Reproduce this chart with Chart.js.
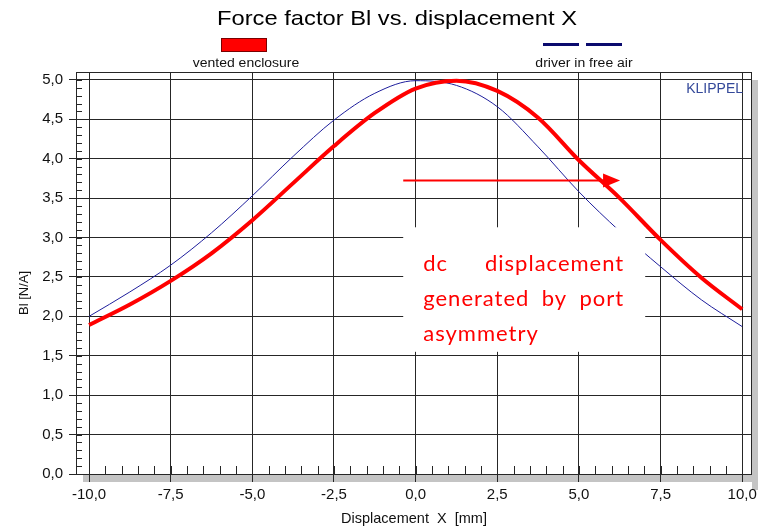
<!DOCTYPE html>
<html>
<head>
<meta charset="utf-8">
<script src="https://cdn.jsdelivr.net/npm/chart.js@4.4.1/dist/chart.umd.min.js"></script>
<style>
  html, body { margin: 0; padding: 0; background: #fff; }
  #wrap { width: 758px; height: 529px; }
</style>
</head>
<body>
<div id="wrap"><canvas id="blChart" width="758" height="529"></canvas></div>
<script>
// ===== Data =====
const displacement = [-10, -8.75, -7.5, -6.25, -5, -3.75, -2.5, -1.25, 0, 1.25, 2.5, 3.75, 5, 6.25, 7.5, 8.75, 10];
const blVented  = [1.89, 2.15, 2.45, 2.80, 3.22, 3.69, 4.16, 4.58, 4.89, 4.99, 4.86, 4.52, 3.98, 3.50, 2.97, 2.49, 2.09];
const blFreeAir = [2.00, 2.31, 2.65, 3.06, 3.53, 4.03, 4.49, 4.83, 4.99, 4.93, 4.66, 4.15, 3.58, 3.08, 2.63, 2.21, 1.87];
const xTicks = [-10, -7.5, -5, -2.5, 0, 2.5, 5, 7.5, 10];
const yTicks = [0, 0.5, 1, 1.5, 2, 2.5, 3, 3.5, 4, 4.5, 5];
const seriesNames = ['vented enclosure', 'driver in free air'];
const chartTitle = 'Force factor Bl vs. displacement X';
const yTitle = 'Bl [N/A]';
const noteLines = [['dc', 'displacement'], ['generated', 'by', 'port'], ['asymmetry']];

// ===== Style =====
const FONT = "'Liberation Sans', Arial, sans-serif";
const RED = '#ff0000';
const BLUE = '#1e1e9c';
const GRID = '#262626';

const fmt = v => v.toFixed(1).replace('.', ',');

// text a bit wider than plain Arial, like the original export
function wideText(ctx, text, x, y, stretch) {
  ctx.save();
  ctx.translate(x, y);
  ctx.scale(stretch, 1);
  ctx.fillText(text, 0, 0);
  ctx.restore();
}

// ===== Decorations (frame, minor ticks, legend, note) =====
const decorations = {
  id: 'decorations',
  beforeDraw(chart) {
    const { ctx, chartArea: a } = chart;
    ctx.save();
    ctx.fillStyle = '#c4c4c4';
    ctx.fillRect(a.left + 7, a.bottom, a.right - a.left, 8);
    ctx.fillRect(a.right, a.top + 8, 6, a.bottom - a.top + 8);
    ctx.restore();
  },
  beforeDatasetsDraw(chart) {
    const { ctx, chartArea: a, scales } = chart;
    ctx.save();
    ctx.strokeStyle = GRID;
    ctx.lineWidth = 1;
    ctx.strokeRect(a.left + 0.5, a.top + 0.5, a.right - a.left - 1, a.bottom - a.top);
    // minor ticks
    ctx.beginPath();
    for (let i = 0; i <= 50; i++) {
      const y = Math.round(scales.y.getPixelForValue(i / 10)) + 0.5;
      ctx.moveTo(a.left, y);
      ctx.lineTo(a.left + 6, y);
    }
    for (let i = -20; i <= 20; i++) {
      const x = Math.round(scales.x.getPixelForValue(i / 2)) + 0.5;
      ctx.moveTo(x, a.bottom);
      ctx.lineTo(x, a.bottom - 8);
    }
    ctx.stroke();
    ctx.restore();
  },
  afterDatasetsDraw(chart) {
    const { ctx, scales } = chart;
    const sx = scales.x, sy = scales.y;
    ctx.save();
    // arrow
    const ay = Math.round(sy.getPixelForValue(3.73)) + 0.5;
    const ax0 = sx.getPixelForValue(-0.38);
    const ax1 = sx.getPixelForValue(6.26);
    ctx.strokeStyle = RED;
    ctx.fillStyle = RED;
    ctx.lineWidth = 2;
    ctx.beginPath();
    ctx.moveTo(ax0, ay);
    ctx.lineTo(ax1 - 10, ay);
    ctx.stroke();
    ctx.beginPath();
    ctx.moveTo(ax1, ay);
    ctx.lineTo(ax1 - 17, ay - 7);
    ctx.lineTo(ax1 - 17, ay + 7);
    ctx.closePath();
    ctx.fill();

    // note box
    const bx0 = sx.getPixelForValue(-0.38), bx1 = sx.getPixelForValue(7.03);
    const by0 = sy.getPixelForValue(3.13), by1 = sy.getPixelForValue(1.55);
    ctx.fillStyle = '#fff';
    ctx.fillRect(bx0, by0, bx1 - bx0, by1 - by0);

    ctx.fillStyle = RED;
    ctx.font = "22px Lato, 'Open Sans', sans-serif";
    ctx.letterSpacing = '1px';
    ctx.textBaseline = 'alphabetic';
    ctx.textAlign = 'left';
    const left = bx0 + 20, right = left + 201;
    const baselines = [by0 + 44, by0 + 79, by0 + 114];
    noteLines.forEach((words, i) => {
      const y = baselines[i];
      if (words.length === 1) {
        ctx.fillText(words[0], left, y);
        return;
      }
      const widths = words.map(w => ctx.measureText(w).width);
      const gap = (right - left - widths.reduce((s, w) => s + w, 0)) / (words.length - 1);
      let x = left;
      words.forEach((w, j) => {
        ctx.fillText(w, x, y);
        x += widths[j] + gap;
      });
    });
    ctx.restore();
  },
  afterDraw(chart) {
    const { ctx, chartArea: a } = chart;
    ctx.save();
    ctx.fillStyle = '#000';
    ctx.textAlign = 'center';
    ctx.textBaseline = 'middle';
    ctx.font = '21px ' + FONT;
    wideText(ctx, chartTitle, 397, 19, 1.13);

    // legend
    ctx.fillStyle = RED;
    ctx.fillRect(221, 38, 46, 14);
    ctx.strokeStyle = '#7a0000';
    ctx.lineWidth = 1;
    ctx.strokeRect(221.5, 38.5, 45, 13);
    ctx.fillStyle = '#0a0a6e';
    ctx.fillRect(543, 43, 36, 3);
    ctx.fillRect(586, 43, 36, 3);

    ctx.fillStyle = '#111';
    ctx.font = '12.5px ' + FONT;
    wideText(ctx, seriesNames[0], 246, 64, 1.12);
    wideText(ctx, seriesNames[1], 584, 64, 1.12);

    // y axis title
    ctx.save();
    ctx.translate(24, 293);
    ctx.rotate(-Math.PI / 2);
    ctx.font = '13px ' + FONT;
    ctx.fillText(yTitle, 0, 0);
    ctx.restore();

    ctx.fillStyle = '#34499a';
    ctx.font = '14px ' + FONT;
    ctx.textAlign = 'right';
    ctx.fillText('KLIPPEL', 743, 89);
    ctx.restore();
  }
};

// ===== Chart =====
new Chart(document.getElementById('blChart'), {
  type: 'line',
  data: {
    labels: displacement,
    datasets: [
      {
        label: seriesNames[0],
        data: displacement.map((x, i) => ({ x, y: blVented[i] })),
        borderColor: RED,
        borderWidth: 4,
        pointRadius: 0,
        cubicInterpolationMode: 'monotone'
      },
      {
        label: seriesNames[1],
        data: displacement.map((x, i) => ({ x, y: blFreeAir[i] })),
        borderColor: BLUE,
        borderWidth: 1,
        pointRadius: 0,
        cubicInterpolationMode: 'monotone'
      }
    ]
  },
  options: {
    responsive: false,
    animation: false,
    devicePixelRatio: 1,
    layout: { padding: { top: 72, right: 6, left: 0, bottom: 0 } },
    plugins: { legend: { display: false }, tooltip: { enabled: false } },
    scales: {
      x: {
        type: 'linear',
        min: -10.4,
        max: 10.3,
        afterBuildTicks: s => { s.ticks = xTicks.map(v => ({ value: v })); },
        afterFit: s => { s.height = 55; s.paddingLeft = 0; s.paddingRight = 0; },
        grid: { color: GRID, lineWidth: 1, tickLength: 8, drawTicks: true },
        border: { display: false },
        ticks: {
          color: '#111',
          padding: 4,
          maxRotation: 0,
          font: { family: FONT, size: 15 },
          callback: v => fmt(v)
        },
        title: {
          display: true,
          text: 'Displacement  X  [mm]',
          color: '#111',
          font: { family: FONT, size: 14.5 },
          padding: { top: 0, bottom: 1 }
        }
      },
      y: {
        min: 0,
        max: 5.1,
        afterBuildTicks: s => { s.ticks = yTicks.map(v => ({ value: v })); },
        afterFit: s => { s.width = 76; s.paddingTop = 0; s.paddingBottom = 0; },
        grid: { color: GRID, lineWidth: 1, tickLength: 7, drawTicks: true },
        border: { display: false },
        ticks: {
          color: '#111',
          padding: 6,
          font: { family: FONT, size: 15 },
          callback: v => fmt(v)
        }
      }
    }
  },
  plugins: [decorations]
});
</script>
</body>
</html>
